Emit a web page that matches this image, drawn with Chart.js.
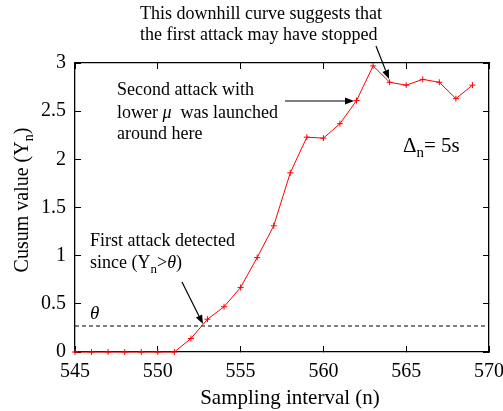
<!DOCTYPE html>
<html><head><meta charset="utf-8">
<script src="https://cdn.jsdelivr.net/npm/chart.js@4.4.0/dist/chart.umd.min.js"></script>
<style>html,body{margin:0;padding:0;background:#fff}#wrap{width:503px;height:411px}</style>
</head><body><div id="wrap"><canvas id="c" width="503" height="411"></canvas></div>
<script>
const intervals = [545,546,547,548,549,550,551,552,553,554,555,556,557,558,559,560,561,562,563,564,565,566,567,568,569];
const cusum = [0,0,0,0,0,0,0,0.14,0.34,0.47,0.67,0.98,1.31,1.86,2.23,2.22,2.37,2.61,2.97,2.80,2.77,2.83,2.80,2.63,2.77];
const theta = 0.27;
const xTicks = [545,550,555,560,565,570];
const yTicks = [0,0.5,1,1.5,2,2.5,3];

const SERIF = '"Liberation Serif", "Times New Roman", serif';

function rich(ctx, parts, x, y, size, align) {
  const fontOf = p => (p[1]==='i' ? 'italic ' : '') + (p[1]==='s' ? Math.round(size*0.7) : size) + 'px ' + SERIF;
  let w = 0;
  parts.forEach(p => { ctx.font = fontOf(p); w += ctx.measureText(p[0]).width; });
  let cx = align === 'center' ? x - w/2 : x;
  ctx.textBaseline = 'alphabetic';
  ctx.textAlign = 'left';
  parts.forEach(p => {
    ctx.font = fontOf(p);
    ctx.fillText(p[0], cx, y + (p[1]==='s' ? size*0.25 : 0));
    cx += ctx.measureText(p[0]).width;
  });
}
function arrow(ctx, x1, y1, x2, y2) {
  const a = Math.atan2(y2-y1, x2-x1), L = 9, W = 3.5;
  const bx = x2 - L*Math.cos(a), by = y2 - L*Math.sin(a);
  ctx.beginPath(); ctx.moveTo(x1, y1); ctx.lineTo(bx, by);
  ctx.lineWidth = 1.2; ctx.stroke();
  ctx.beginPath(); ctx.moveTo(x2,y2);
  ctx.lineTo(bx + W*Math.sin(a), by - W*Math.cos(a));
  ctx.lineTo(bx - W*Math.sin(a), by + W*Math.cos(a));
  ctx.closePath(); ctx.fill();
}

const decor = {
  id: 'decor',
  afterDraw(chart) {
    const ctx = chart.ctx;
    ctx.save();
    ctx.setLineDash([]);
    ctx.strokeStyle = '#000';
    ctx.fillStyle = '#000';
    rich(ctx, [['Sampling interval (n)','n']], 290, 404, 21, 'center');
    ctx.save();
    ctx.translate(28, 200); ctx.rotate(-Math.PI/2);
    rich(ctx, [['Cusum value (Y','n'],['n','s'],[')','n']], 0, 0, 20, 'center');
    ctx.restore();
    rich(ctx, [['This downhill curve suggests that','n']], 140, 19, 18, 'left');
    rich(ctx, [['the first attack may have stopped','n']], 140, 40, 18, 'left');
    arrow(ctx, 376, 46, 389, 79);
    rich(ctx, [['Second attack with','n']], 117, 95, 18, 'left');
    rich(ctx, [['lower ','n'],['\u03bc','i'],['  was launched','n']], 117, 118, 18, 'left');
    rich(ctx, [['around here','n']], 117, 139, 18, 'left');
    arrow(ctx, 285, 101, 354, 101);
    rich(ctx, [['\u0394','n'],['n','s'],['= 5s','n']], 403, 152, 21, 'left');
    rich(ctx, [['First attack detected','n']], 90, 246, 18, 'left');
    rich(ctx, [['since (Y','n'],['n','s'],['>','n'],['\u03b8','i'],[')','n']], 90, 268, 18, 'left');
    arrow(ctx, 182, 282, 203, 324);
    rich(ctx, [['\u03b8','i']], 90, 319, 19, 'left');
    ctx.restore();
  }
};

const gridOpts = { drawOnChartArea: false, drawTicks: true, tickLength: -6, color: '#000', lineWidth: 1 };
const borderOpts = { display: true, color: '#000', width: 1.3 };
const tickFont = { family: SERIF, size: 20 };

new Chart(document.getElementById('c'), {
  type: 'line',
  data: {
    datasets: [
      {
        data: intervals.map((x,i) => ({x, y: cusum[i]})),
        borderColor: '#ff0000', backgroundColor: '#ff0000', borderWidth: 1,
        pointStyle: 'cross', pointRadius: 3, pointBorderWidth: 1, pointBorderColor: '#ff0000',
        tension: 0, clip: false
      },
      {
        data: [{x: 545, y: theta}, {x: 570, y: theta}],
        borderColor: '#000', borderWidth: 1, borderDash: [4,3], pointRadius: 0
      }
    ]
  },
  options: {
    responsive: false, animation: false, devicePixelRatio: 1,
    layout: { padding: 0 },
    plugins: { legend: { display: false }, tooltip: { enabled: false } },
    scales: {
      x: {
        type: 'linear', position: 'bottom', min: 545, max: 570,
        afterBuildTicks: s => { s.ticks = xTicks.map(v => ({value: v})); },
        afterFit: s => { s.height = 59; s.paddingLeft = 0; s.paddingRight = 0; },
        grid: gridOpts, border: borderOpts,
        ticks: { color: '#000', padding: 14, font: tickFont, maxRotation: 0, callback: v => String(v) }
      },
      x2: {
        type: 'linear', position: 'top', min: 545, max: 570,
        afterBuildTicks: s => { s.ticks = xTicks.map(v => ({value: v})); },
        afterFit: s => { s.height = 63; s.paddingLeft = 0; s.paddingRight = 0; },
        grid: gridOpts, border: borderOpts,
        ticks: { color: 'rgba(0,0,0,0)', font: tickFont, maxRotation: 0 }
      },
      y: {
        type: 'linear', position: 'left', min: 0, max: 3,
        afterBuildTicks: s => { s.ticks = yTicks.map(v => ({value: v})); },
        afterFit: s => { s.width = 75; s.paddingTop = 0; s.paddingBottom = 0; },
        grid: gridOpts, border: borderOpts,
        ticks: { color: '#000', padding: 15, font: tickFont, callback: v => String(v) }
      },
      y2: {
        type: 'linear', position: 'right', min: 0, max: 3,
        afterBuildTicks: s => { s.ticks = yTicks.map(v => ({value: v})); },
        afterFit: s => { s.width = 14; s.paddingTop = 0; s.paddingBottom = 0; },
        grid: gridOpts, border: borderOpts,
        ticks: { color: 'rgba(0,0,0,0)', font: tickFont }
      }
    }
  },
  plugins: [decor]
});
</script></body></html>
